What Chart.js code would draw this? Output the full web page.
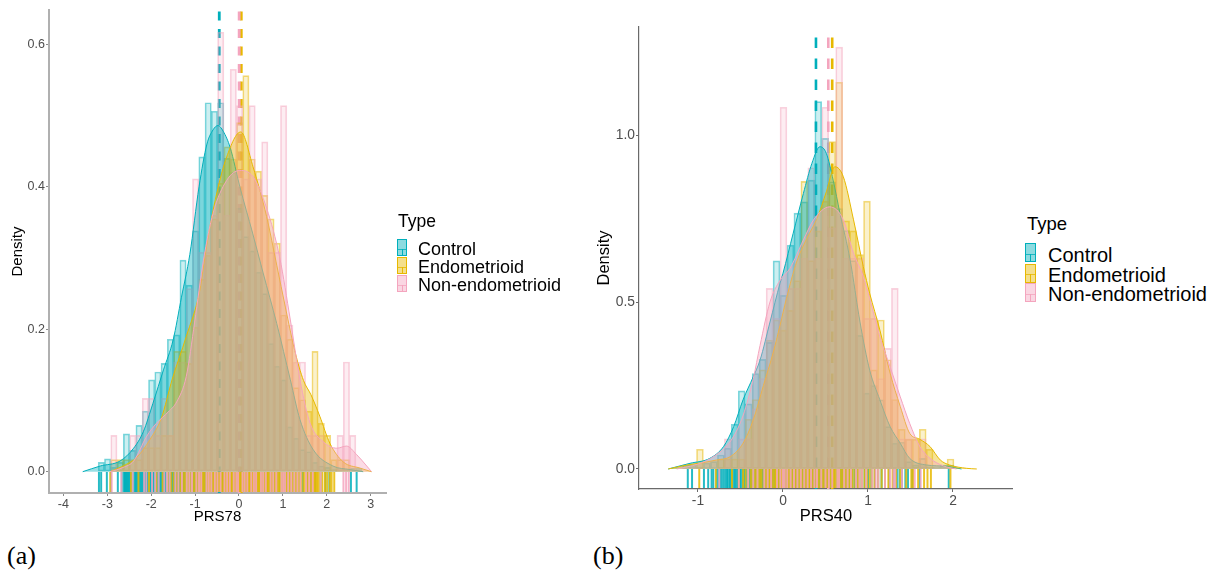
<!DOCTYPE html>
<html><head><meta charset="utf-8">
<script src="https://cdn.jsdelivr.net/npm/chart.js@4.4.1/dist/chart.umd.min.js"></script>
<style>
html,body{margin:0;padding:0;background:#fff;width:1228px;height:574px;overflow:hidden;position:relative;font-family:"Liberation Sans",Arial,sans-serif;}
canvas{position:absolute;top:0;}
.lg{position:absolute;white-space:nowrap;line-height:1;color:#000;}
.key{position:absolute;box-sizing:border-box;}
.key i{position:absolute;left:50%;bottom:0;width:1px;margin-left:-0.5px;}
.key b{position:absolute;left:0;right:0;height:1px;}
.pl{position:absolute;font-family:"Liberation Serif",serif;line-height:1;color:#000;}
</style></head><body>
<canvas id="ca" width="400" height="540" style="left:0px;width:400px;height:540px"></canvas>
<canvas id="cb" width="423" height="540" style="left:590px;width:423px;height:540px"></canvas>
<div class="pl" style="left:7px;top:543px;font-size:26px">(a)</div>
<div class="pl" style="left:593px;top:543px;font-size:26px">(b)</div>
<script>
// ---------- data ----------
const GROUPS = ['Control', 'Endometrioid', 'Non-endometrioid'];
const COLORS = ['#00AFBB', '#E7B800', '#F4A5BE'];

// Panel (a) PRS78
const X_TICKS_A = [-4, -3, -2, -1, 0, 1, 2, 3];
const Y_TICKS_A = [0.0, 0.2, 0.4, 0.6];
const BINS_A = [-3.279, -3.136, -2.993, -2.850, -2.706, -2.563, -2.420, -2.277, -2.134, -1.990, -1.847, -1.704, -1.561, -1.418, -1.275, -1.131, -0.988, -0.845, -0.702, -0.559, -0.416, -0.272, -0.129, 0.014, 0.157, 0.300, 0.443, 0.587, 0.730, 0.873, 1.016, 1.159, 1.302, 1.446, 1.589, 1.732, 1.875, 2.018, 2.161, 2.305, 2.448, 2.591, 2.734, 2.877];
const HIST_A_CONTROL = [0, 0.013, 0.018, 0.006, 0.013, 0.053, 0.030, 0.065, 0.085, 0.129, 0.140, 0.152, 0.186, 0.192, 0.297, 0.262, 0.338, 0.442, 0.518, 0.506, 0.518, 0.440, 0.420, 0.370, 0.330, 0.310, 0.280, 0.250, 0.180, 0.148, 0.129, 0.063, 0.047, 0.031, 0.028, 0.013, 0.008, 0.006, 0.003, 0, 0, 0.005, 0.005, 0];
const HIST_A_ENDO = [0, 0, 0, 0.017, 0.017, 0.017, 0.017, 0.017, 0.034, 0.034, 0.034, 0.051, 0.051, 0.169, 0.169, 0.152, 0.203, 0.270, 0.304, 0.355, 0.405, 0.456, 0.439, 0.490, 0.556, 0.439, 0.422, 0.388, 0.355, 0.321, 0.220, 0.186, 0.118, 0.101, 0.085, 0.169, 0.068, 0.051, 0.017, 0.017, 0.017, 0, 0, 0];
const HIST_A_NON = [0, 0, 0, 0.051, 0, 0, 0.051, 0.051, 0.103, 0.103, 0.051, 0.103, 0.051, 0.154, 0.154, 0.257, 0.411, 0.308, 0.308, 0.360, 0.617, 0.360, 0.565, 0.514, 0.411, 0.514, 0.411, 0.463, 0.308, 0.308, 0.514, 0.206, 0.154, 0.154, 0.051, 0.051, 0.051, 0, 0, 0.051, 0.154, 0.051, 0, 0];
const DENS_A_CONTROL_X = [-3.56, -3.16, -2.71, -2.40, -2.18, -1.96, -1.72, -1.50, -1.31, -1.12, -0.91, -0.73, -0.59, -0.48, -0.36, -0.20, 0.02, 0.31, 0.55, 0.86, 1.17, 1.39, 1.69, 2.14, 2.53, 2.83];
const DENS_A_CONTROL_Y = [0, 0.008, 0.015, 0.033, 0.056, 0.096, 0.143, 0.185, 0.245, 0.305, 0.400, 0.460, 0.480, 0.486, 0.478, 0.455, 0.400, 0.335, 0.279, 0.208, 0.129, 0.073, 0.031, 0.008, 0.003, 0];
const DENS_A_ENDO_X = [-2.94, -2.64, -2.33, -2.03, -1.77, -1.52, -1.20, -0.89, -0.74, -0.51, -0.28, 0.04, 0.32, 0.63, 0.86, 1.06, 1.27, 1.47, 1.64, 1.84, 2.07, 2.37, 2.76, 3.02];
const DENS_A_ENDO_Y = [0, 0.008, 0.020, 0.045, 0.075, 0.130, 0.190, 0.255, 0.316, 0.390, 0.442, 0.477, 0.428, 0.358, 0.290, 0.230, 0.170, 0.128, 0.108, 0.078, 0.040, 0.014, 0.005, 0];
const DENS_A_NON_X = [-2.94, -2.64, -2.40, -2.10, -1.88, -1.61, -1.42, -1.20, -1.01, -0.81, -0.59, -0.28, 0.02, 0.32, 0.63, 0.93, 1.17, 1.39, 1.62, 1.92, 2.23, 2.45, 2.68, 2.91, 3.02];
const DENS_A_NON_Y = [0, 0.006, 0.015, 0.050, 0.068, 0.084, 0.098, 0.134, 0.210, 0.297, 0.363, 0.409, 0.423, 0.414, 0.370, 0.300, 0.213, 0.129, 0.068, 0.042, 0.033, 0.036, 0.024, 0.008, 0];
const MEANS_A = [-0.449, 0.052, 0.004];
const RUG_A_CONTROL = [-3.19, -3.14, -3.01, -2.92, -2.76, -2.67, -2.62, -2.6, -2.585, -2.57, -2.55, -2.53, -2.51, -2.49, -2.46, -2.44, -2.41, -2.37, -2.35, -2.33, -2.3, -2.27, -2.25, -2.22, -2.2, -2.17, -2.14, -2.12, -2.09, -2.07, -2.04, -2.02, -1.99, -1.97, -1.95, -1.92, -1.9, -1.88, -1.85, -1.83, -1.81, -1.78, -1.76, -1.74, -1.71, -1.69, -1.67, -1.64, -1.62, -1.6, -1.57, -1.55, -1.53, -1.5, -1.48, -1.46, -1.43, -1.41, -1.39, -1.36, -1.34, -1.32, -1.29, -1.27, -1.25, -1.22, -1.2, -1.18, -1.15, -1.13, -1.11, -1.08, -1.06, -1.04, -1.01, -0.99, -0.97, -0.94, -0.92, -0.9, -0.87, -0.85, -0.83, -0.8, -0.78, -0.76, -0.73, -0.71, -0.69, -0.66, -0.64, -0.62, -0.59, -0.57, -0.55, -0.52, -0.5, -0.48, -0.45, -0.43, -0.41, -0.38, -0.36, -0.34, -0.31, -0.29, -0.27, -0.24, -0.22, -0.2, -0.17, -0.15, -0.12, -0.1, -0.07, -0.05, -0.02, 0.01, 0.04, 0.07, 0.1, 0.13, 0.16, 0.19, 0.22, 0.26, 0.3, 0.34, 0.38, 0.42, 0.46, 0.5, 0.55, 0.6, 0.65, 0.7, 0.75, 0.8, 0.86, 0.92, 0.98, 1.04, 1.1, 1.17, 1.24, 1.31, 1.38, 1.46, 1.55, 1.64, 1.74, 1.86, 1.97, 2.06, 2.55, 2.68];
const RUG_A_ENDO = [-2.93, -2.46, -2.29, -2.05, -1.88, -1.74, -1.62, -1.55, -1.49, -1.43, -1.38, -1.33, -1.29, -1.25, -1.21, -1.16, -1.12, -1.08, -1.04, -1.0, -0.97, -0.93, -0.9, -0.87, -0.84, -0.81, -0.78, -0.74, -0.71, -0.68, -0.66, -0.63, -0.6, -0.57, -0.55, -0.52, -0.49, -0.46, -0.44, -0.41, -0.38, -0.35, -0.33, -0.3, -0.28, -0.25, -0.23, -0.2, -0.18, -0.15, -0.13, -0.1, -0.08, -0.05, -0.03, 0.0, 0.02, 0.05, 0.07, 0.1, 0.12, 0.15, 0.17, 0.2, 0.22, 0.25, 0.27, 0.3, 0.32, 0.35, 0.37, 0.4, 0.42, 0.45, 0.47, 0.5, 0.53, 0.55, 0.58, 0.61, 0.63, 0.66, 0.69, 0.72, 0.75, 0.78, 0.81, 0.84, 0.87, 0.9, 0.93, 0.97, 1.0, 1.04, 1.07, 1.11, 1.14, 1.18, 1.22, 1.26, 1.3, 1.34, 1.38, 1.42, 1.47, 1.51, 1.55, 1.59, 1.63, 1.66, 1.69, 1.72, 1.74, 1.77, 1.8, 1.85, 1.9, 1.96, 2.01, 2.07, 2.11, 2.17];
const RUG_A_NON = [-2.9, -2.68, -2.42, -2.16, -2.11, -1.98, -1.91, -1.83, -1.7, -1.64, -1.58, -1.45, -1.38, -1.3, -1.19, -1.13, -1.07, -0.97, -0.91, -0.86, -0.74, -0.69, -0.63, -0.55, -0.49, -0.42, -0.33, -0.27, -0.21, -0.12, -0.06, -0.02, 0.08, 0.13, 0.19, 0.28, 0.34, 0.39, 0.5, 0.55, 0.61, 0.72, 0.78, 0.85, 0.97, 1.01, 1.05, 1.12, 1.19, 1.26, 1.33, 1.4, 1.53, 1.6, 1.68, 1.86, 2.38, 2.44, 2.5];

// Panel (b) PRS40
const X_TICKS_B = [-1, 0, 1, 2];
const Y_TICKS_B = [0.0, 0.5, 1.0];
const BINS_B = [-1.141, -1.059, -0.977, -0.895, -0.813, -0.731, -0.649, -0.568, -0.486, -0.404, -0.322, -0.240, -0.158, -0.076, 0.006, 0.088, 0.169, 0.251, 0.333, 0.415, 0.497, 0.579, 0.661, 0.743, 0.825, 0.907, 0.988, 1.070, 1.152, 1.234, 1.316, 1.398, 1.480, 1.562, 1.644, 1.725, 1.807, 1.889, 1.971, 2.053];
const HIST_B_CONTROL = [0.012, 0.012, 0.006, 0.018, 0.022, 0.042, 0.062, 0.134, 0.234, 0.195, 0.286, 0.328, 0.379, 0.623, 0.520, 0.670, 0.766, 0.800, 0.865, 1.100, 0.990, 0.860, 0.780, 0.714, 0.624, 0.400, 0.227, 0.250, 0.207, 0.127, 0.077, 0.080, 0.022, 0.012, 0.032, 0.006, 0.006, 0.012, 0.012, 0];
const HIST_B_ENDO = [0, 0, 0.059, 0, 0, 0.030, 0.030, 0.030, 0.030, 0.149, 0.208, 0.297, 0.386, 0.446, 0.416, 0.475, 0.564, 0.861, 0.624, 0.713, 0.802, 0.980, 1.158, 0.743, 0.713, 0.642, 0.802, 0.297, 0.446, 0.327, 0.208, 0.119, 0.089, 0.089, 0.119, 0.059, 0, 0, 0.030, 0];
const HIST_B_NON = [0, 0, 0, 0, 0, 0, 0.090, 0, 0.090, 0.090, 0.180, 0.271, 0.541, 0.451, 1.083, 0.541, 0.541, 0.631, 0.902, 0.631, 1.083, 0.722, 1.263, 0.631, 0.631, 0.631, 0.451, 0.451, 0.271, 0.361, 0.541, 0.090, 0.090, 0, 0.090, 0, 0, 0, 0, 0];
const DENS_B_CONTROL_X = [-1.35, -1.094, -0.86, -0.70, -0.58, -0.47, -0.35, -0.27, -0.153, -0.035, 0.0, 0.12, 0.24, 0.34, 0.435, 0.51, 0.59, 0.67, 0.79, 0.906, 1.02, 1.14, 1.26, 1.38, 1.49, 1.69, 1.93, 2.10];
const DENS_B_CONTROL_Y = [0, 0.017, 0.032, 0.067, 0.127, 0.207, 0.276, 0.326, 0.440, 0.556, 0.586, 0.706, 0.825, 0.915, 0.965, 0.945, 0.865, 0.766, 0.626, 0.440, 0.296, 0.207, 0.127, 0.077, 0.032, 0.012, 0.008, 0];
const DENS_B_ENDO_X = [-1.35, -1.13, -0.94, -0.78, -0.62, -0.47, -0.35, -0.23, -0.114, -0.035, 0.04, 0.16, 0.28, 0.40, 0.51, 0.61, 0.71, 0.83, 0.945, 1.02, 1.14, 1.26, 1.38, 1.49, 1.61, 1.73, 1.85, 1.96, 2.16, 2.28];
const DENS_B_ENDO_Y = [0, 0.012, 0.019, 0.027, 0.037, 0.077, 0.147, 0.250, 0.350, 0.430, 0.510, 0.620, 0.690, 0.750, 0.830, 0.905, 0.875, 0.746, 0.606, 0.526, 0.416, 0.287, 0.187, 0.107, 0.089, 0.067, 0.027, 0.012, 0.002, 0];
const DENS_B_NON_X = [-1.25, -1.0, -0.8, -0.6, -0.47, -0.35, -0.27, -0.153, -0.035, 0.08, 0.24, 0.36, 0.55, 0.71, 0.83, 0.945, 1.02, 1.14, 1.26, 1.38, 1.49, 1.61, 1.73, 1.89, 2.04];
const DENS_B_NON_Y = [0, 0.015, 0.040, 0.090, 0.160, 0.270, 0.370, 0.500, 0.565, 0.600, 0.686, 0.746, 0.785, 0.746, 0.646, 0.576, 0.510, 0.396, 0.306, 0.216, 0.137, 0.067, 0.032, 0.009, 0];
const MEANS_B = [0.388, 0.579, 0.533];
const RUG_B_CONTROL = [-1.12, -1.07, -0.93, -0.88, -0.84, -0.82, -0.78, -0.76, -0.74, -0.72, -0.7, -0.68, -0.66, -0.65, -0.63, -0.62, -0.6, -0.59, -0.57, -0.56, -0.54, -0.53, -0.51, -0.5, -0.48, -0.47, -0.45, -0.44, -0.42, -0.41, -0.39, -0.38, -0.36, -0.35, -0.33, -0.32, -0.3, -0.29, -0.27, -0.26, -0.24, -0.23, -0.21, -0.2, -0.18, -0.17, -0.15, -0.13, -0.12, -0.1, -0.08, -0.07, -0.05, -0.03, -0.02, 0.0, 0.02, 0.04, 0.05, 0.07, 0.09, 0.11, 0.13, 0.15, 0.17, 0.19, 0.21, 0.23, 0.25, 0.27, 0.29, 0.31, 0.33, 0.35, 0.37, 0.39, 0.41, 0.43, 0.45, 0.47, 0.49, 0.51, 0.53, 0.55, 0.58, 0.6, 0.63, 0.65, 0.68, 0.7, 0.73, 0.75, 0.78, 0.81, 0.84, 0.87, 0.9, 0.93, 0.96, 1.0, 1.04, 1.08, 1.12, 1.16, 1.2, 1.25, 1.3, 1.34, 1.37, 1.4, 1.44, 1.47, 1.52, 1.61, 1.95];
const RUG_B_ENDO = [-0.985, -0.79, -0.6, -0.52, -0.47, -0.44, -0.41, -0.38, -0.36, -0.33, -0.31, -0.29, -0.27, -0.25, -0.22, -0.2, -0.18, -0.16, -0.15, -0.13, -0.11, -0.09, -0.08, -0.06, -0.04, -0.02, -0.01, 0.01, 0.03, 0.05, 0.06, 0.08, 0.1, 0.12, 0.13, 0.15, 0.17, 0.19, 0.21, 0.22, 0.24, 0.26, 0.28, 0.3, 0.31, 0.33, 0.35, 0.37, 0.39, 0.4, 0.42, 0.44, 0.46, 0.48, 0.5, 0.51, 0.53, 0.55, 0.57, 0.59, 0.6, 0.62, 0.64, 0.66, 0.68, 0.7, 0.72, 0.74, 0.76, 0.78, 0.8, 0.82, 0.85, 0.88, 0.9, 0.93, 0.96, 0.99, 1.02, 1.05, 1.08, 1.12, 1.16, 1.2, 1.24, 1.29, 1.33, 1.38, 1.45, 1.51, 1.53, 1.59, 1.66, 1.7, 1.74, 1.97];
const RUG_B_NON = [-0.75, -0.52, -0.41, -0.35, -0.3, -0.22, -0.18, -0.14, -0.07, -0.03, 0.0, 0.02, 0.05, 0.09, 0.13, 0.17, 0.21, 0.25, 0.29, 0.33, 0.37, 0.4, 0.45, 0.5, 0.54, 0.58, 0.64, 0.66, 0.72, 0.76, 0.8, 0.86, 0.9, 0.93, 0.98, 1.05, 1.09, 1.12, 1.2, 1.26, 1.3, 1.32, 1.4, 1.55, 1.62];

// ---------- drawing ----------
const FONT = '"Liberation Sans", Arial, sans-serif';
function rgba(hex, a) {
  const n = parseInt(hex.slice(1), 16);
  return `rgba(${(n >> 16) & 255},${(n >> 8) & 255},${n & 255},${a})`;
}

// rug marks: drawn through the chart's own x/y scales
const rugPlugin = {
  id: 'rug',
  afterDatasetsDraw(chart, args, opts) {
    if (!opts || !opts.rugs) return;
    const {ctx, chartArea, scales} = chart;
    const xs = scales.x, ys = scales.y;
    const y0 = Math.round(ys.getPixelForValue(0));
    const y1 = y0 + opts.length;
    ctx.save();
    ctx.beginPath();
    ctx.rect(chartArea.left, chartArea.top, chartArea.right - chartArea.left, chartArea.bottom - chartArea.top);
    ctx.clip();
    ctx.lineWidth = opts.width;
    opts.rugs.forEach((r, g) => {
      ctx.strokeStyle = rgba(COLORS[g], opts.alpha);
      r.forEach(v => {
        const px = xs.getPixelForValue(v);
        ctx.beginPath();
        ctx.moveTo(px, y0); ctx.lineTo(px, y1);
        ctx.stroke();
      });
    });
    ctx.restore();
  }
};

function buildPanel(id, p) {
  const ds = [];
  p.means.forEach((m, g) => ds.push({
    type: 'line', data: [{x: m, y: p.yMin}, {x: m, y: p.yMax}],
    borderColor: COLORS[g], borderWidth: p.vlineW, borderDash: p.dash,
    pointRadius: 0, fill: false, order: 100 - g
  }));
  p.hist.forEach((h, g) => ds.push({
    type: 'bar', data: p.bins.map((x, i) => ({x: x, y: h[i]})),
    backgroundColor: rgba(COLORS[g], 0.2), borderColor: rgba(COLORS[g], 0.5),
    borderWidth: 1, borderSkipped: false, grouped: false,
    barPercentage: 1, categoryPercentage: 1, order: 90 - g
  }));
  p.dens.forEach((d, g) => ds.push({
    type: 'line', data: d[0].map((x, i) => ({x: x, y: d[1][i]})),
    borderColor: COLORS[g], backgroundColor: rgba(COLORS[g], 0.4), borderWidth: 1,
    fill: 'origin', pointRadius: 0, cubicInterpolationMode: 'monotone', order: 80 - g
  }));

  const tickFont = {family: FONT, size: p.tickSize};
  new Chart(document.getElementById(id), {
    type: 'bar',
    data: {datasets: ds},
    plugins: [rugPlugin],
    options: {
      responsive: false, animation: false, devicePixelRatio: 1, events: [],
      layout: {autoPadding: false, padding: {top: p.padTop, right: p.padRight, left: 0, bottom: 0}},
      plugins: {legend: {display: false}, tooltip: {enabled: false},
        rug: {rugs: p.rug, length: p.rugLen, alpha: 0.85, width: 2}},
      scales: {
        x: {
          type: 'linear', min: p.xMin, max: p.xMax, offset: false,
          afterBuildTicks: s => { s.ticks = p.xTicks.map(v => ({value: v})); },
          afterFit: s => { s.height = p.xAxisH; },
          grid: {display: true, drawOnChartArea: false, drawTicks: true, tickLength: 3, color: p.tickColor, offset: false, lineWidth: 1},
          border: {display: true, color: p.axisColor, width: p.axisW},
          ticks: {color: '#4D4D4D', font: tickFont, padding: 1, maxRotation: 0, autoSkip: false, callback: v => String(v)},
          title: {display: true, text: p.xTitle, color: '#000', font: {family: FONT, size: p.titleSize}, padding: {top: 0, bottom: p.xTitlePad}}
        },
        y: {
          type: 'linear', min: p.yMin, max: p.yMax,
          afterBuildTicks: s => { s.ticks = p.yTicks.map(v => ({value: v})); },
          afterFit: s => { s.width = p.yAxisW; },
          grid: {display: true, drawOnChartArea: false, drawTicks: true, tickLength: 3, color: p.tickColor, lineWidth: 1},
          border: {display: true, color: p.axisColor, width: p.axisW},
          ticks: {color: '#4D4D4D', font: tickFont, padding: 1, callback: v => Number(v).toFixed(1)},
          title: {display: true, text: 'Density', color: '#000', font: {family: FONT, size: p.titleSize}, padding: {top: p.yTitlePad, bottom: 0}}
        }
      }
    }
  });
}

function buildLegend(L) {
  const t = document.createElement('div');
  t.className = 'lg'; t.textContent = 'Type';
  t.style.left = L.titleLeft + 'px'; t.style.top = L.titleTop + 'px'; t.style.fontSize = L.titleSize + 'px';
  document.body.appendChild(t);
  GROUPS.forEach((name, g) => {
    const k = document.createElement('div');
    k.className = 'key';
    Object.assign(k.style, {left: L.keyLeft + 'px', top: L.keyTops[g] + 'px', width: L.keyW + 'px', height: L.keyH + 'px',
      background: rgba(COLORS[g], 0.45), border: '1.5px solid ' + COLORS[g]});
    const hb = document.createElement('b'); hb.style.top = '58%'; hb.style.background = rgba(COLORS[g], 0.8);
    const vb = document.createElement('i'); vb.style.height = '42%'; vb.style.background = COLORS[g];
    k.appendChild(hb); k.appendChild(vb);
    document.body.appendChild(k);
    const s = document.createElement('div');
    s.className = 'lg'; s.textContent = name;
    s.style.left = L.textLeft + 'px'; s.style.top = L.textTops[g] + 'px'; s.style.fontSize = L.textSize + 'px';
    document.body.appendChild(s);
  });
}

buildPanel('ca', {
  bins: BINS_A, hist: [HIST_A_CONTROL, HIST_A_ENDO, HIST_A_NON],
  dens: [[DENS_A_CONTROL_X, DENS_A_CONTROL_Y], [DENS_A_ENDO_X, DENS_A_ENDO_Y], [DENS_A_NON_X, DENS_A_NON_Y]],
  rug: [RUG_A_CONTROL, RUG_A_ENDO, RUG_A_NON], means: MEANS_A,
  xTicks: X_TICKS_A, yTicks: Y_TICKS_A, xTitle: 'PRS78',
  xMin: -4.328, xMax: 3.349, yMin: -0.0299, yMax: 0.6482,
  rugLen: 20, vlineW: 2.8, dash: [9, 8.5],
  padTop: 10, padRight: 14, xAxisH: 47, yAxisW: 49,
  tickSize: 12.5, titleSize: 15, xTitlePad: 14.5, yTitlePad: 9,
  axisColor: '#B0B0B0', axisW: 2, tickColor: '#8A8A8A'
});
buildPanel('cb', {
  bins: BINS_B, hist: [HIST_B_CONTROL, HIST_B_ENDO, HIST_B_NON],
  dens: [[DENS_B_CONTROL_X, DENS_B_CONTROL_Y], [DENS_B_ENDO_X, DENS_B_ENDO_Y], [DENS_B_NON_X, DENS_B_NON_Y]],
  rug: [RUG_B_CONTROL, RUG_B_ENDO, RUG_B_NON], means: MEANS_B,
  xTicks: X_TICKS_B, yTicks: Y_TICKS_B, xTitle: 'PRS40',
  xMin: -1.694, xMax: 2.706, yMin: -0.0599, yMax: 1.3234,
  rugLen: 19, vlineW: 2.6, dash: [10.5, 10.5],
  padTop: 27, padRight: 0, xAxisH: 51, yAxisW: 49,
  tickSize: 13.8, titleSize: 16.5, xTitlePad: 13.6, yTitlePad: 5,
  axisColor: '#6A6A6A', axisW: 1.2, tickColor: '#6A6A6A'
});

buildLegend({titleLeft: 398, titleTop: 213, titleSize: 17.5, keyLeft: 397, keyW: 10, keyH: 17, keyTops: [239, 257, 275],
  textLeft: 418, textSize: 18, textTops: [240, 258, 275.5]});
buildLegend({titleLeft: 1027, titleTop: 215, titleSize: 18.5, keyLeft: 1025, keyW: 11, keyH: 19, keyTops: [243, 263.5, 283],
  textLeft: 1048, textSize: 20, textTops: [245, 265, 284]});
</script>
</body></html>
